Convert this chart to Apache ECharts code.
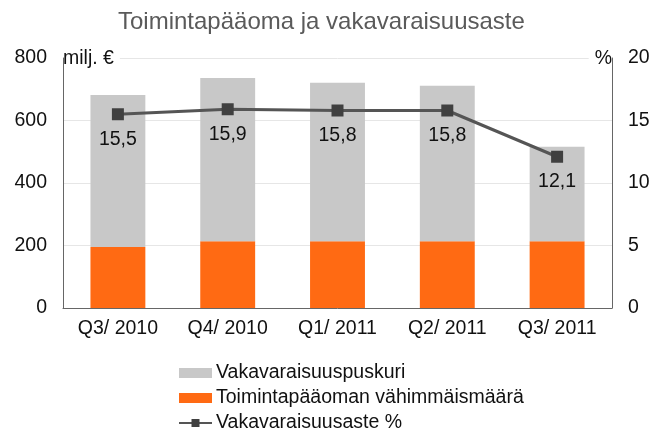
<!DOCTYPE html>
<html>
<head>
<meta charset="utf-8">
<script src="https://cdn.jsdelivr.net/npm/echarts@6/dist/echarts.min.js"></script>
<style>
  html, body { margin: 0; padding: 0; background: #fff; }
  #chart { width: 667px; height: 434px; }
</style>
</head>
<body>
<div id="chart"></div>
<script>
var categories = ['Q3/ 2010', 'Q4/ 2010', 'Q1/ 2011', 'Q2/ 2011', 'Q3/ 2011']
// milj. €
var minimumCapital = [195, 214, 214, 214, 214]
var capitalBuffer = [487, 522, 507, 497, 302]
// %
var solvencyRatio = [15.5, 15.9, 15.8, 15.8, 12.1]
var leftTicks = [0, 800, 200]
var rightTicks = [0, 20, 5]

var font = 'Liberation Sans, Arial, sans-serif'
var fs = 19.5
var chart = echarts.init(document.getElementById('chart'))

var option = {
  animation: false,
  title: {
    text: 'Toimintapääoma ja vakavaraisuusaste',
    left: 113,
    top: 5,
    textStyle: { color: '#5a5a5a', fontSize: 24, fontWeight: 'normal', fontFamily: font }
  },
  legend: {
    orient: 'vertical',
    left: 178,
    top: 363,
    padding: 0,
    itemWidth: 33,
    itemHeight: 10,
    itemGap: 5,
    textStyle: { color: '#111', fontSize: fs, fontFamily: font, padding: [0, 0, 0, -1] },
    data: [
      { name: 'Vakavaraisuuspuskuri', icon: 'rect' },
      { name: 'Toimintapääoman vähimmäismäärä', icon: 'rect' },
      { name: 'Vakavaraisuusaste %' }
    ]
  },
  grid: { left: 63, right: 55, top: 58, bottom: 126 },
  xAxis: {
    type: 'category',
    data: categories,
    axisLine: { lineStyle: { color: '#666' } },
    axisTick: { show: false },
    axisLabel: { color: '#111', fontSize: fs, fontFamily: font, margin: 11 }
  },
  yAxis: [{
    type: 'value',
    min: leftTicks[0],
    max: leftTicks[1],
    interval: leftTicks[2],
    name: 'milj. €',
    nameLocation: 'end',
    nameGap: -1,
    nameTextStyle: {
      color: '#111', fontSize: fs, fontFamily: font,
      align: 'left', verticalAlign: 'middle',
      backgroundColor: '#fff', padding: [0, 6, 0, 0]
    },
    axisLine: { show: true, lineStyle: { color: '#666' } },
    axisTick: { show: false },
    splitLine: { lineStyle: { color: '#e6e6e6' } },
    axisLabel: { color: '#111', fontSize: fs, fontFamily: font, margin: 16 }
  }, {
    type: 'value',
    min: rightTicks[0],
    max: rightTicks[1],
    interval: rightTicks[2],
    name: '%',
    nameLocation: 'end',
    nameGap: -1,
    nameTextStyle: {
      color: '#111', fontSize: fs, fontFamily: font,
      align: 'right', verticalAlign: 'middle',
      backgroundColor: '#fff', padding: [0, 0, 0, 6]
    },
    axisLine: { show: true, lineStyle: { color: '#666' } },
    axisTick: { show: false },
    splitLine: { show: false },
    axisLabel: { color: '#111', fontSize: fs, fontFamily: font, margin: 16 }
  }],
  series: [{
    name: 'Toimintapääoman vähimmäismäärä',
    type: 'bar',
    stack: 'capital',
    barWidth: '50%',
    itemStyle: { color: '#ff6a13' },
    data: minimumCapital
  }, {
    name: 'Vakavaraisuuspuskuri',
    type: 'bar',
    stack: 'capital',
    barWidth: '50%',
    itemStyle: { color: '#c8c8c8' },
    data: capitalBuffer
  }, {
    name: 'Vakavaraisuusaste %',
    type: 'line',
    yAxisIndex: 1,
    symbol: 'rect',
    symbolSize: 12,
    itemStyle: { color: '#404040' },
    lineStyle: { color: '#555', width: 3 },
    label: {
      show: true,
      position: 'bottom',
      distance: 9,
      color: '#111',
      fontSize: fs,
      fontFamily: font,
      formatter: function (p) { return p.value.toFixed(1).replace('.', ',') }
    },
    data: solvencyRatio
  }]
}

chart.setOption(option)
</script>
</body>
</html>
